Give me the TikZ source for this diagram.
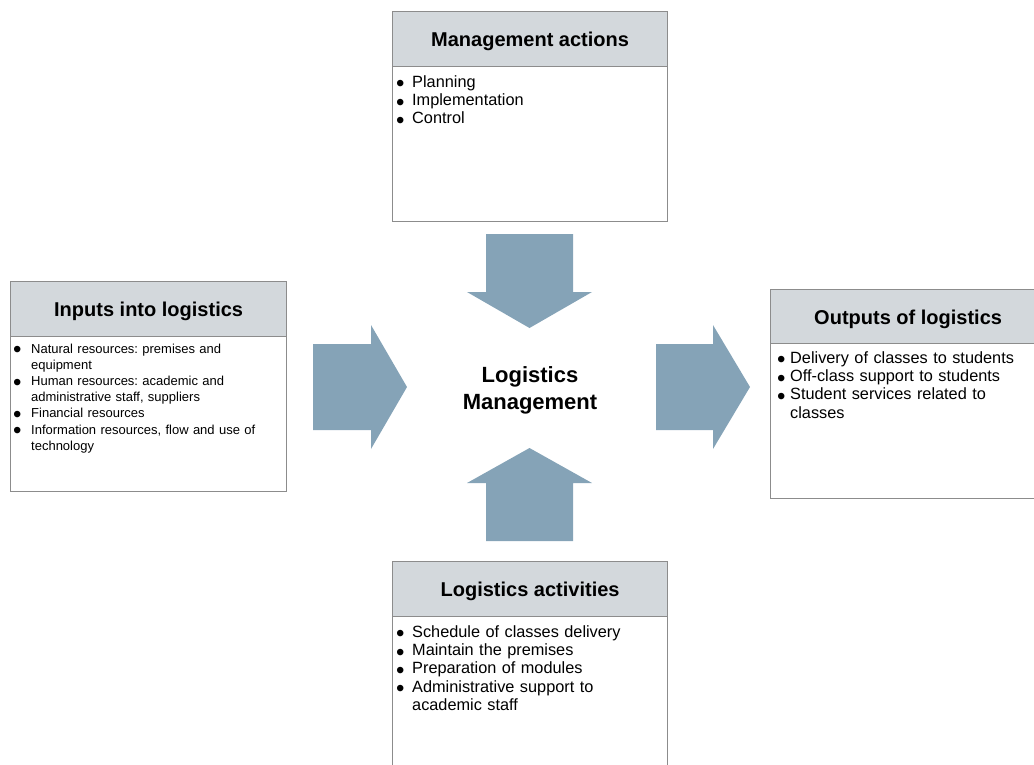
\documentclass[tikz,border=0pt]{standalone}
\usepackage{fontspec}
\setmainfont{Liberation Sans}
\definecolor{headgray}{HTML}{D3D8DC}
\definecolor{arrowblue}{HTML}{85A3B7}
\definecolor{boxline}{HTML}{8C8C8C}
\hyphenpenalty=10000
\exhyphenpenalty=10000
\frenchspacing
\newcommand\bulglyph{\raisebox{-4.6pt}[0pt][0pt]{\fontsize{24}{24}\selectfont\textbullet}}
\newcommand\bl[2]{\noindent\hangindent=#1pt\hangafter=1\makebox[#1pt][l]{\bulglyph}#2\par}
\begin{document}
\begin{tikzpicture}[x=1pt,y=-1pt,
  header/.style={draw=boxline,line width=1.2pt,fill=headgray,anchor=north west,
    minimum width=275pt,minimum height=55pt,inner sep=0pt,
    font=\bfseries\fontsize{20}{24}\selectfont,text height=14.5pt,text depth=0pt},
  body/.style={draw=boxline,line width=1.2pt,fill=white,anchor=north west,
    minimum width=275pt,minimum height=155pt,inner sep=0pt},
  listbig/.style={anchor=base west,inner sep=0pt,align=left,
    font=\fontsize{16.3}{18.4}\selectfont\frenchspacing},
  listsmall/.style={anchor=base west,inner sep=0pt,align=left,
    font=\fontsize{13}{16.2}\selectfont\frenchspacing},
  blockarrow/.style={fill=arrowblue}]
\useasboundingbox (0,0) rectangle (1034,764);

% Management actions (top)
\node[header] (mh) at (392,11) {Management actions};
\node[body] (mb) at (392,66) {};
\node[listbig,text width=262pt] (ml) at (396,87)
  {\bl{16}{Planning}\bl{16}{Implementation}\bl{16}{Control}};

% Inputs into logistics (left)
\node[header,minimum width=276pt] (ih) at (10,281) {Inputs into logistics};
\node[body,minimum width=276pt] (ib) at (10,336) {};
\node[listsmall,text width=266pt] (il) at (13,353)
  {\bl{18}{Natural resources: premises and equipment}%
   \bl{18}{Human resources: academic and administrative staff, suppliers}%
   \bl{18}{Financial resources}%
   \bl{18}{Information resources, flow and use of technology}};

% Outputs of logistics (right)
\node[header] (oh) at (770,289) {Outputs of logistics};
\node[body] (ob) at (770,343) {};
\node[listbig,text width=250pt] (ol) at (777,363)
  {\bl{13}{Delivery of classes to students}%
   \bl{13}{Off-class support to students}%
   \bl{13}{Student services related to classes}};

% Logistics activities (bottom)
\node[header] (ah) at (392,561) {Logistics activities};
\node[body,minimum height=220pt] (ab) at (392,616) {};
\node[listbig,text width=252pt] (al) at (396,637)
  {\bl{16}{Schedule of classes delivery}%
   \bl{16}{Maintain the premises}%
   \bl{16}{Preparation of modules}%
   \bl{16}{Administrative support to academic staff}};

% centre
\node[align=center,inner sep=0pt,font=\bfseries\fontsize{22}{27}\selectfont] (lm) at (530,390)
  {Logistics\\Management};

% block arrows
\fill[blockarrow] (486,234) -- (573,234) -- (573,292) -- (592,292) -- (529.5,328)
  -- (467,292) -- (486,292) -- cycle;
\fill[blockarrow] (486,541) -- (573,541) -- (573,483) -- (592,483) -- (529.5,448)
  -- (467,483) -- (486,483) -- cycle;
\fill[blockarrow] (313,344) -- (371,344) -- (371,325) -- (407,387) -- (371,449)
  -- (371,430) -- (313,430) -- cycle;
\fill[blockarrow] (656,344) -- (713,344) -- (713,325) -- (750,387) -- (713,449)
  -- (713,430) -- (656,430) -- cycle;
\end{tikzpicture}
\end{document}
